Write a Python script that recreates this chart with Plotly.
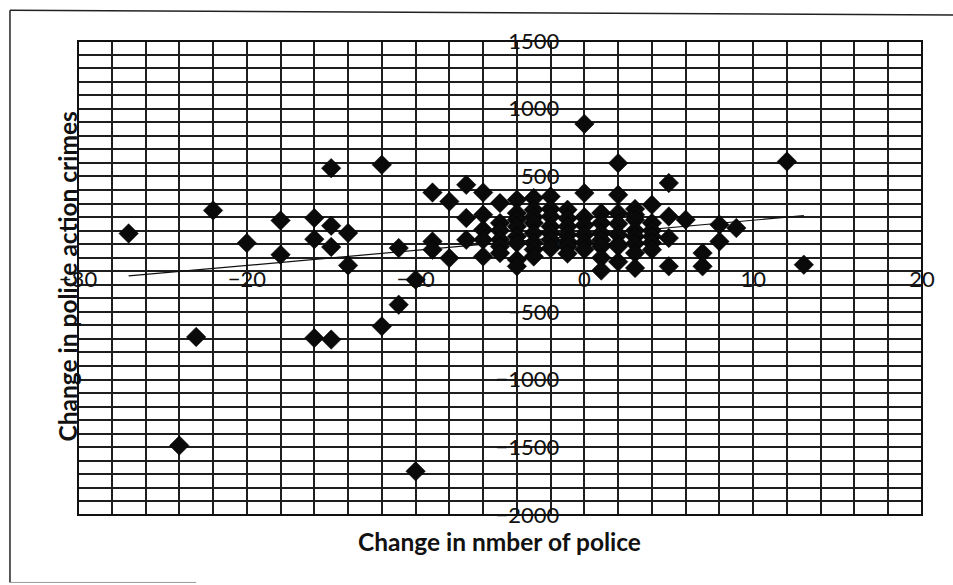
import plotly.graph_objects as go

# Data (x: change in number of police, y: change in police action crimes)
police_change = [
    -27, -24, -23, -22, -20,
    -18, -18,
    -16, -16, -16,
    -15, -15, -15, -15,
    -14, -14,
    -12, -12,
    -11, -11,
    -10, -10,
    -9, -9, -9,
    -8, -8,
    -7, -7, -7,
    -6, -6, -6, -6, -6,
    -5, -5, -5, -5, -5, -5,
    -4, -4, -4, -4, -4, -4, -4, -4,
    -3, -3, -3, -3, -3, -3, -3, -3,
    -2, -2, -2, -2, -2, -2, -2,
    -1, -1, -1, -1, -1, -1, -1,
    0, 0, 0, 0, 0, 0, 0,
    1, 1, 1, 1, 1, 1, 1,
    2, 2, 2, 2, 2, 2, 2, 2,
    3, 3, 3, 3, 3, 3, 3, 3,
    4, 4, 4, 4, 4, 4,
    5, 5, 5, 5,
    6,
    7, 7,
    8, 8,
    9,
    12,
    13,
]
crime_change = [
    79, -1487, -685, 249, 8,
    175, -78,
    193, 37, -693,
    561, 136, -21, -705,
    82, -157,
    586, -607,
    -29, -447,
    -263, -1677,
    381, 20, -41,
    315, -103,
    438, 193, 32,
    381, 217, 106, 32, -91,
    303, 156, 100, 32, -17, -66,
    328, 229, 180, 130, 57, 8, -115, -164,
    340, 254, 200, 156, 80, 8, -40, -91,
    352, 260, 204, 130, 80, 32, -30,
    254, 190, 130, 70, 20, -17, -70,
    888, 377, 200, 140, 69, 10, -40,
    230, 156, 80, 30, -17, -100, -195,
    598, 364, 229, 150, 70, 0, -17, -130,
    260, 217, 180, 100, 57, 5, -66, -176,
    291, 156, 100, 57, 10, -41,
    451, 204, 45, -164,
    180,
    -66, -164,
    143, 20,
    119,
    610,
    -152,
]

# Linear trendline end points
trend_x = [-27, 13]
trend_y = [-235, 210]

x_ticks = [-30, -20, -10, 0, 10, 20]
y_ticks = [-2000, -1500, -1000, -500, 0, 500, 1000, 1500]

grid_col = "#1e1e1e"
tick_font = dict(family="Lato, Liberation Sans, sans-serif", size=22, color="#111")
title_font = dict(family="Lato, Liberation Sans, sans-serif", size=24.5, color="#111", weight="bold")

fig = go.Figure()
fig.add_trace(go.Scatter(
    x=trend_x, y=trend_y, mode="lines",
    line=dict(color="#111", width=1.2), hoverinfo="skip", showlegend=False,
))
fig.add_trace(go.Scatter(
    x=police_change, y=crime_change, mode="markers",
    marker=dict(symbol="diamond", size=15, color="#0a0a0a",
                line=dict(color="#000", width=0.5)),
    showlegend=False,
))

fig.update_layout(
    width=953, height=585,
    margin=dict(l=78, r=31, t=41, b=70),
    paper_bgcolor="white", plot_bgcolor="white",
    showlegend=False,
    xaxis=dict(
        range=[-30, 20], tickvals=x_ticks, ticks="",
        showgrid=True, gridcolor=grid_col, gridwidth=1.6,
        minor=dict(dtick=2, showgrid=True, gridcolor=grid_col, gridwidth=1.6),
        zeroline=True, zerolinecolor=grid_col, zerolinewidth=1.6,
        showline=False, tickfont=tick_font,
        anchor="free", position=0.5786, ticklabelstandoff=23,
        layer="below traces",
    ),
    yaxis=dict(
        range=[-2000, 1500], tickvals=y_ticks, ticks="",
        showgrid=True, gridcolor=grid_col, gridwidth=1.6,
        minor=dict(dtick=100, showgrid=True, gridcolor=grid_col, gridwidth=1.6),
        zeroline=True, zerolinecolor=grid_col, zerolinewidth=1.6,
        showline=False, tickfont=tick_font,
        anchor="free", position=0.6, ticklabelstandoff=25,
        layer="below traces",
    ),
    shapes=[
        dict(type="rect", xref="paper", yref="paper", x0=0, x1=1, y0=0, y1=1,
             line=dict(color="#111", width=2)),
        # outer frame of the scanned page
        dict(type="line", xref="paper", yref="paper", x0=-0.0806, x1=-0.0806,
             y0=-0.1423, y1=1.065, line=dict(color="#222", width=1.5)),
        dict(type="line", xref="paper", yref="paper", x0=-0.0806, x1=1.04,
             y0=1.065, y1=1.055, line=dict(color="#222", width=1.5)),
        dict(type="line", xref="paper", yref="paper", x0=-0.0806, x1=0.14,
             y0=-0.1423, y1=-0.1423, line=dict(color="#999", width=1)),
    ],
    annotations=[
        dict(text="Change in police action crimes", xref="paper", yref="paper",
             x=-0.0125, y=0.504, textangle=-90, showarrow=False,
             font=title_font, xanchor="center", yanchor="middle"),
        dict(text="Change in nmber of police", xref="paper", yref="paper",
             x=0.499, y=-0.055, showarrow=False,
             font=title_font, xanchor="center", yanchor="middle"),
    ],
)

fig.write_html("out.html")
